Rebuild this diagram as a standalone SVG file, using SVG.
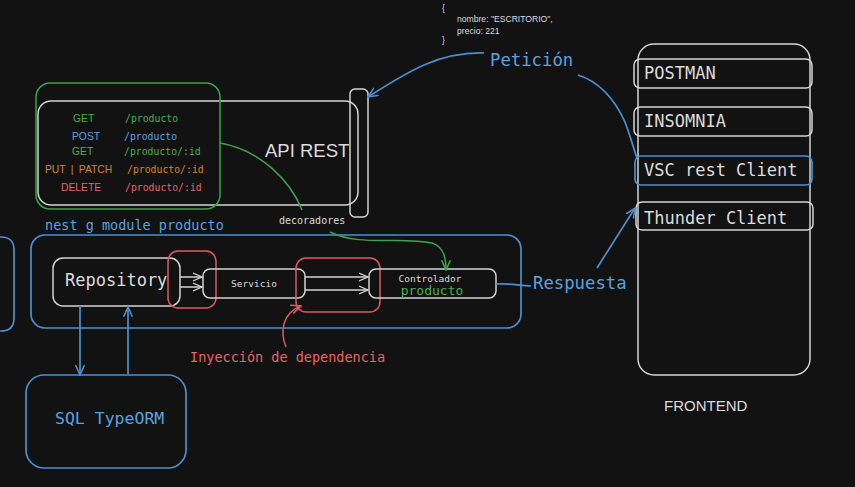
<svg xmlns="http://www.w3.org/2000/svg" width="855" height="487" viewBox="0 0 855 487">
<defs>
<style>
.w{fill:none;stroke:#d4d4d4;stroke-width:1.5}
.b{fill:none;stroke:#4a90d0;stroke-width:1.7}
.g{fill:none;stroke:#3fa34d;stroke-width:1.5}
.r{fill:none;stroke:#e05a5f;stroke-width:1.5}
.mono{font-family:"DejaVu Sans Mono","Liberation Mono",monospace}
.sans{font-family:"Liberation Sans",Arial,sans-serif}
.tw{fill:#dcdcdc}
.tb{fill:#5aa3e0}
.tg{fill:#4caf50}
.to{fill:#d9822b}
.tr{fill:#e8646a}
</style>
<marker id="aw" viewBox="0 0 10 10" refX="9" refY="5" markerWidth="10" markerHeight="10" orient="auto" markerUnits="userSpaceOnUse"><path d="M0,1 L9,5 L0,9" fill="none" stroke="#d4d4d4" stroke-width="1.3"/></marker>
<marker id="ab" viewBox="0 0 10 10" refX="9" refY="5" markerWidth="11" markerHeight="11" orient="auto" markerUnits="userSpaceOnUse"><path d="M0,1 L9,5 L0,9" fill="none" stroke="#4a90d0" stroke-width="1.4"/></marker>
<marker id="ag" viewBox="0 0 10 10" refX="9" refY="5" markerWidth="11" markerHeight="11" orient="auto" markerUnits="userSpaceOnUse"><path d="M0,1 L9,5 L0,9" fill="none" stroke="#3fa34d" stroke-width="1.4"/></marker>
<marker id="ar" viewBox="0 0 10 10" refX="9" refY="5" markerWidth="11" markerHeight="11" orient="auto" markerUnits="userSpaceOnUse"><path d="M0,1 L9,5 L0,9" fill="none" stroke="#e05a5f" stroke-width="1.4"/></marker>
</defs>
<rect width="855" height="487" fill="#121212"/>

<g id="json" class="sans tw" font-size="8.6">
<text x="442" y="11">{</text>
<text x="457" y="22">nombre: "ESCRITORIO",</text>
<text x="457" y="34">precio: 221</text>
<text x="442" y="43">}</text>
</g>

<g id="api-rest">
<rect class="w" x="38" y="101" width="320" height="104" rx="13"/>
<text class="sans tw" x="265" y="157" font-size="18.5">API REST</text>
</g>
<g id="api-bar">
<rect class="w" x="350" y="89" width="18" height="128" rx="5"/>
</g>

<g id="routes">
<rect class="g" x="36" y="83" width="184" height="126" rx="14"/>
<g class="sans" font-size="10.3">
<text class="tg" x="73" y="122">GET</text>
<text class="tb" x="72" y="140">POST</text>
<text class="tg" x="72" y="155">GET</text>
<text class="to" x="45" y="173" word-spacing="2.5">PUT | PATCH</text>
<text class="tr" x="61" y="191">DELETE</text>
</g>
<g class="mono" font-size="9.8">
<text class="tg" x="125" y="122">/producto</text>
<text class="tb" x="124" y="140">/producto</text>
<text class="tg" x="124" y="155">/producto/:id</text>
<text class="to" x="127" y="173">/producto/:id</text>
<text class="tr" x="125" y="191">/producto/:id</text>
</g>
</g>

<g id="decoradores">
<text class="mono tw" x="279" y="224" font-size="10">decoradores</text>
</g>

<g id="module-label">
<text class="mono tb" x="45" y="230" font-size="13.5">nest g module producto</text>
</g>

<g id="module">
<rect class="b" x="31" y="235" width="490" height="93" rx="14"/>
</g>
<g id="left-partial">
<path class="b" d="M-20,237 L1,237 Q14,237 14,250 L14,318 Q14,331 1,331 L-20,331"/>
</g>

<g id="repository">
<rect class="w" x="53" y="258" width="127" height="48" rx="10"/>
<text class="mono tw" x="65" y="286" font-size="17">Repository</text>
</g>
<g id="inj1">
<rect class="r" x="168" y="251" width="48" height="57" rx="10"/>
</g>
<g id="servicio">
<rect class="w" x="203" y="269" width="102" height="29" rx="7"/>
<text class="mono tw" x="254" y="287" font-size="9.5" text-anchor="middle">Servicio</text>
</g>
<g id="inj2">
<rect class="r" x="296" y="258" width="84" height="54" rx="10"/>
</g>
<g id="controlador">
<rect class="w" x="369" y="269" width="127" height="29" rx="7"/>
<text class="mono tw" x="430" y="282" font-size="9.5" text-anchor="middle">Controlador</text>
<text class="mono tg" x="432" y="295" font-size="13" text-anchor="middle">producto</text>
</g>

<g id="inyeccion">
<text class="mono tr" x="190" y="362" font-size="13.5">Inyección de dependencia</text>
</g>

<g id="sql">
<rect class="b" x="26" y="375" width="160" height="93" rx="18"/>
<text class="mono tb" x="55" y="424" font-size="16.5">SQL TypeORM</text>
</g>

<g id="peticion">
<text class="mono tb" x="490" y="66" font-size="17.3">Petición</text>
</g>
<g id="respuesta">
<text class="mono tb" x="533" y="289" font-size="17.3">Respuesta</text>
</g>

<g id="frontend">
<rect class="w" x="638" y="44" width="172" height="331" rx="16"/>
<text class="sans tw" x="664" y="411" font-size="15">FRONTEND</text>
</g>
<g id="postman">
<rect class="w" x="634" y="59" width="178" height="29" rx="6"/>
<text class="mono tw" x="644" y="79" font-size="17">POSTMAN</text>
</g>
<g id="insomnia">
<rect class="w" x="634" y="107" width="178" height="29" rx="6"/>
<text class="mono tw" x="644" y="127" font-size="17">INSOMNIA</text>
</g>
<g id="vsc">
<rect class="b" x="635" y="156" width="177" height="29" rx="6"/>
<text class="mono tw" x="644" y="176" font-size="17">VSC rest Client</text>
</g>
<g id="thunder">
<rect class="w" x="636" y="202" width="177" height="28" rx="6"/>
<text class="mono tw" x="644" y="224" font-size="17">Thunder Client</text>
</g>

<g id="connectors">
<path class="b" d="M484,53 C440,52 410,70 368,97" marker-end="url(#ab)"/>
<path class="b" d="M578,75 C600,82 615,100 625,122 C631,138 634,150 637,158"/>
<path class="g" d="M220,143 C260,150 290,180 302,210"/>
<path class="g" d="M330,232 C360,247 400,236 432,243 C444,247 446,258 446,270" marker-end="url(#ag)"/>
<path class="w" d="M180,277 L202,277" marker-end="url(#aw)"/>
<path class="w" d="M180,287 L202,287" marker-end="url(#aw)"/>
<path class="w" d="M305,277 L368,277" marker-end="url(#aw)"/>
<path class="w" d="M305,290 L368,290" marker-end="url(#aw)"/>
<path class="r" d="M286,347 C280,332 282,313 301,306" marker-end="url(#ar)"/>
<path class="b" d="M496,284 C510,283 520,286 531,286"/>
<path class="b" d="M597,268 L635,208" marker-end="url(#ab)"/>
<path class="b" d="M80,306 L80,375" marker-end="url(#ab)"/>
<path class="b" d="M128,374 L128,307" marker-end="url(#ab)"/>
</g>
</svg>
